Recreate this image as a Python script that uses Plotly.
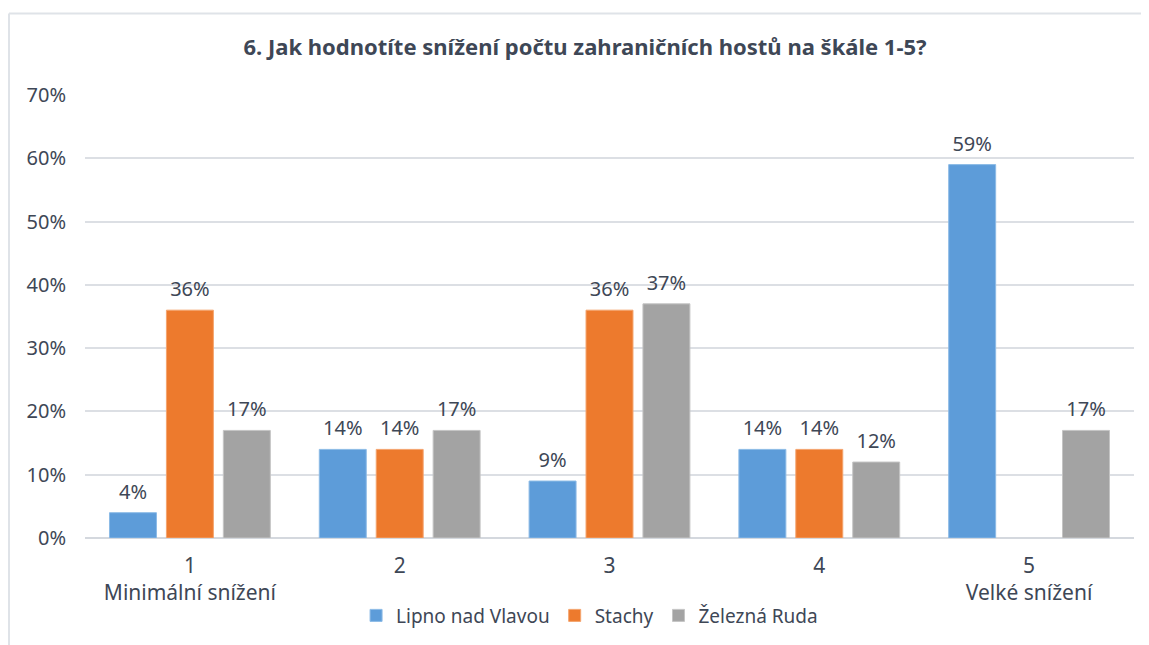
import plotly.graph_objects as go

categories = ["1<br>Minimální snížení", "2", "3", "4", "5<br>Velké snížení"]
series_names = ["Lipno nad Vlavou", "Stachy", "Železná Ruda"]
lipno = [0.04, 0.14, 0.09, 0.14, 0.59]
stachy = [0.36, 0.14, 0.36, 0.14, 0.0]
zelezna = [0.17, 0.17, 0.37, 0.12, 0.17]
y_ticks = [0, 0.1, 0.2, 0.3, 0.4, 0.5, 0.6, 0.7]
y_tick_labels = ["0%", "10%", "20%", "30%", "40%", "50%", "60%", "70%"]

colors = ["#5d9cd9", "#ed7a2d", "#a3a3a3"]
edge_colors = ["#8cbbe6", "#f4a46e", "#c4c4c4"]
text_color = "#3e4756"
font_family = "Noto Sans, Open Sans, sans-serif"

W, H = 1141, 637
L, R, T, B = 77, 15, 87, 107

fig = go.Figure()
for name, vals, c, ec in zip(series_names, [lipno, stachy, zelezna], colors, edge_colors):
    fig.add_trace(go.Bar(
        x=categories, y=vals, name=name,
        marker=dict(color=c, line=dict(color=ec, width=[1 if v > 0 else 0 for v in vals])),
        text=[f"<span style='font-size:20px'>{round(v*100)}%</span><br> " if v > 0 else "" for v in vals],
        textposition="outside",
        textfont=dict(size=7, color=text_color, family=font_family),
        cliponaxis=False,
    ))

fig.update_layout(
    width=W, height=H,
    paper_bgcolor="white", plot_bgcolor="white",
    margin=dict(l=L, r=R, t=T, b=B, autoexpand=False),
    barmode="group", bargap=0.186, bargroupgap=0.175,
    title=dict(text="<b>6. Jak hodnotíte snížení počtu zahraničních hostů na škále 1-5?</b>",
               x=0.5057, xanchor="center", y=1 - 39 / H, yanchor="middle",
               font=dict(size=22, color=text_color, family=font_family)),
    font=dict(family=font_family, color=text_color, size=20),
    legend=dict(orientation="h", x=0.481, xanchor="center", y=-0.175, yanchor="middle",
                font=dict(size=19, color=text_color), itemwidth=30, traceorder="normal"),
    uniformtext=dict(mode=False),
)
fig.update_yaxes(range=[0, 0.7], tickvals=y_ticks, ticktext=y_tick_labels,
                 showgrid=True, gridcolor="#dcdfe4", gridwidth=1.5,
                 zeroline=True, zerolinecolor="#d4d8de", zerolinewidth=2,
                 showline=False, ticks="", ticklabelstandoff=18, automargin=False,
                 tickfont=dict(size=20, color=text_color))
fig.update_xaxes(showline=False, ticks="", ticklabelstandoff=13, automargin=False,
                 tickfont=dict(size=21, color=text_color))

# chart border
plot_w = W - L - R
plot_h = H - T - B
fig.add_shape(type="line", xref="paper", yref="paper",
              x0=(1 - L) / plot_w, x1=1.1, y0=1 + (T - 5.5) / plot_h, y1=1 + (T - 5.5) / plot_h,
              line=dict(color="#dfe3e8", width=2))
fig.add_shape(type="line", xref="paper", yref="paper",
              x0=(1 - L) / plot_w, x1=(1 - L) / plot_w, y0=1 + (T - 5.5) / plot_h, y1=-0.4,
              line=dict(color="#dfe3e8", width=2))

fig.write_html("out.html")
